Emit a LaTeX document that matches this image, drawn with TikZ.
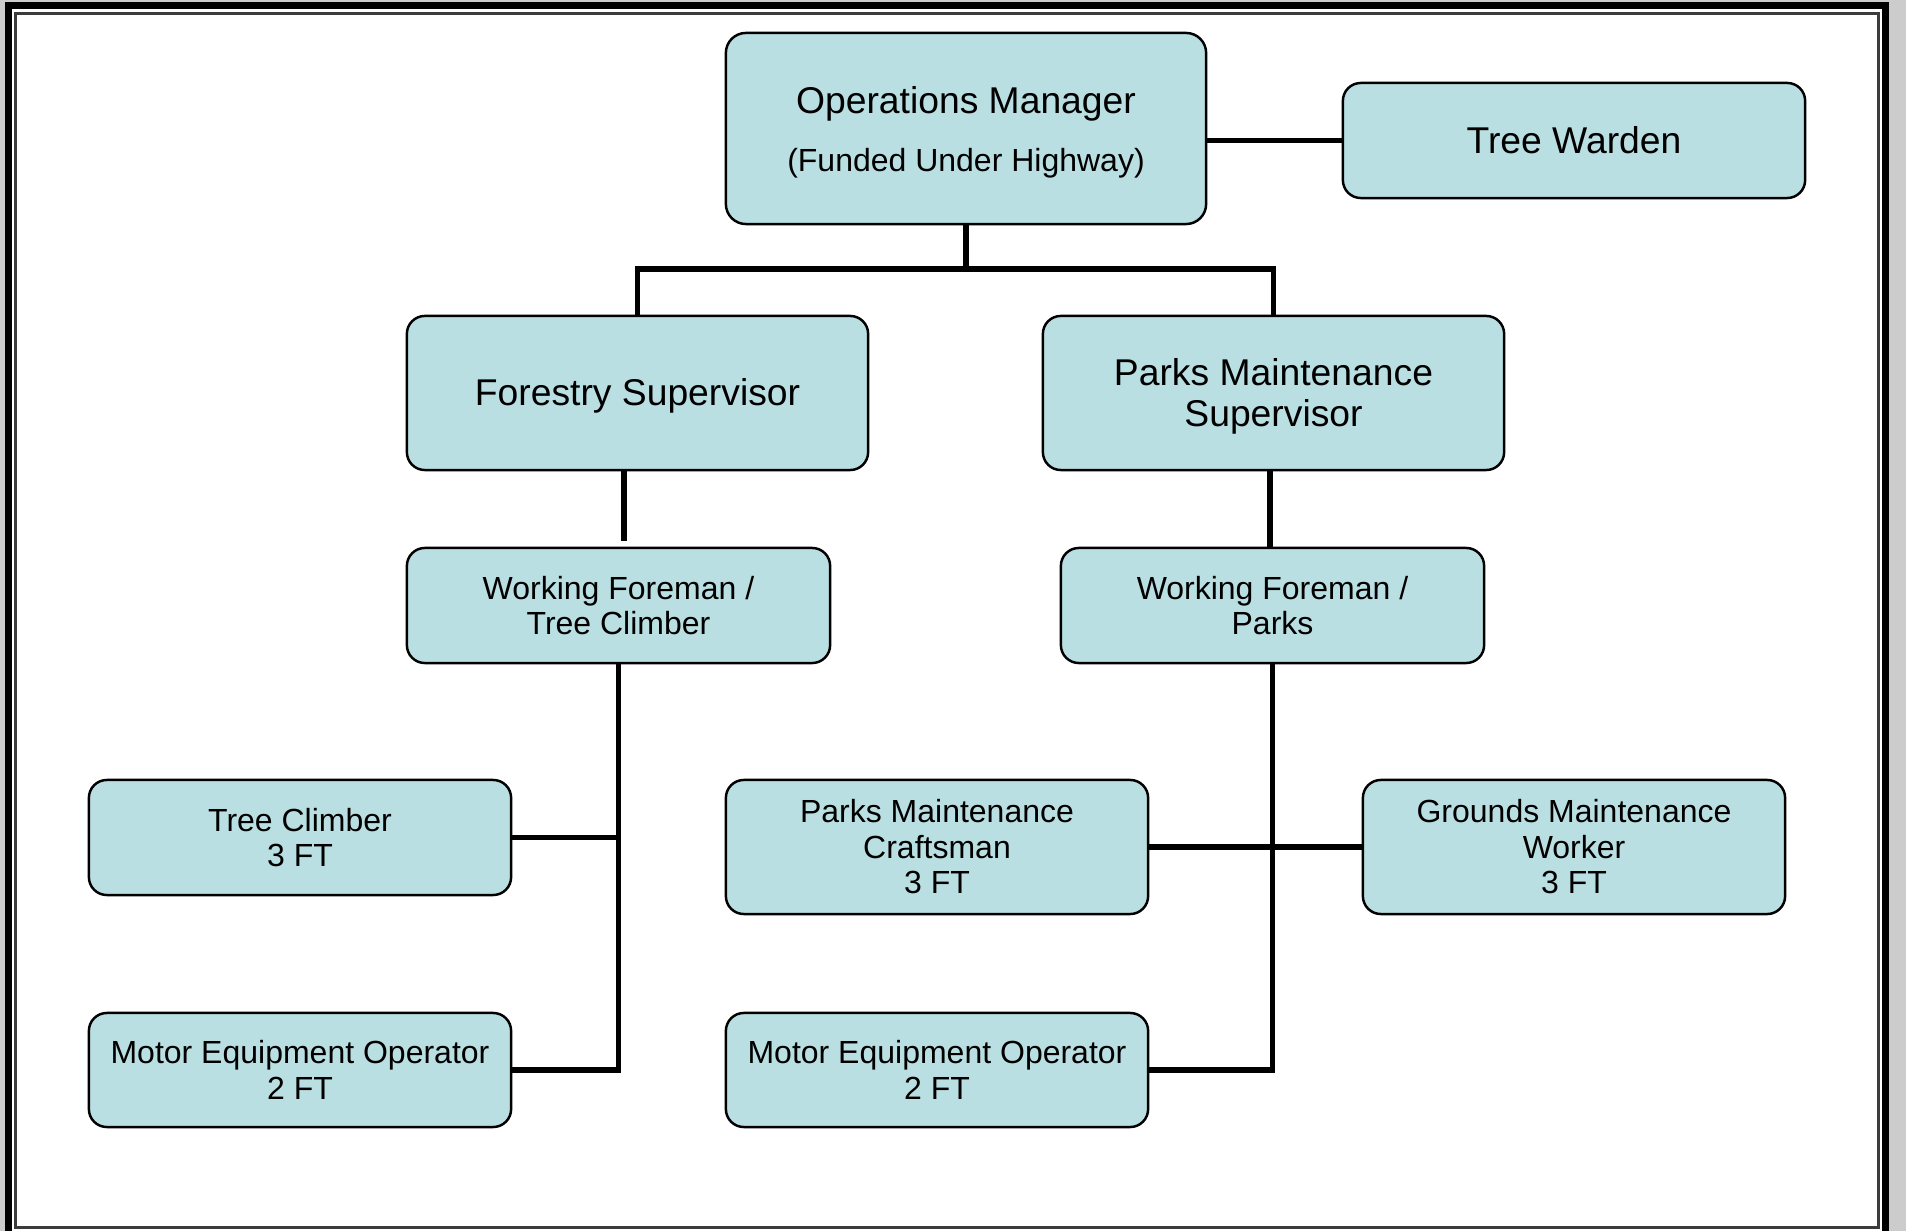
\documentclass[tikz,border=0pt]{standalone}
\usepackage{fontspec}
\setmainfont{Liberation Sans}
\definecolor{boxfill}{RGB}{186,223,226}
\definecolor{pagegray}{RGB}{204,204,204}
\definecolor{rulegray}{RGB}{60,60,60}
\newcommand\bigtext{\fontsize{10.6pt}{11.7pt}\selectfont}
\newcommand\smalltext{\fontsize{9.1pt}{10.1pt}\selectfont}
% invisible strut that sets the height of a first line
\newcommand\topstrut[1]{\rule{0pt}{#1}}
\begin{document}
\begin{tikzpicture}[x=0.01cm,y=-0.01cm,
  box/.style={draw=black,line width=0.7pt,fill=boxfill,rounded corners=5.1pt,
              inner sep=0pt,align=center,font=\smalltext},
  bigbox/.style={box,font=\bigtext},
  link/.style={line width=1.45pt,black}]
\useasboundingbox (0,0) rectangle (1906,1231);

% page frame
\fill[pagegray] (0,0) rectangle (1906,1231);
\fill[black] (5,2) rectangle (1889,1231);
\fill[white] (12,9) rectangle (1882,1231);
\draw[rulegray,line width=0.85pt] (15.5,13.5) rectangle (1878.5,1227.5);

% top level
\node[bigbox,rounded corners=5.7pt,minimum width=4.80cm,minimum height=1.91cm] (ops) at (966,128.5)
  {\topstrut{9.9pt}Operations Manager\\[5pt]{\smalltext (Funded Under Highway)}};
\node[bigbox,minimum width=4.62cm,minimum height=1.15cm] (tw) at (1574,140.5) {Tree Warden};

% supervisors
\node[bigbox,minimum width=4.61cm,minimum height=1.54cm] (fs) at (637.5,393) {\topstrut{9.5pt}Forestry Supervisor};
\node[bigbox,minimum width=4.61cm,minimum height=1.54cm] (ps) at (1273.5,393) {\topstrut{9.8pt}Parks Maintenance\\Supervisor};

% working foremen
\node[box,minimum width=4.23cm,minimum height=1.15cm] (wft) at (618.5,605.5) {Working Foreman /\\Tree Climber};
\node[box,minimum width=4.23cm,minimum height=1.15cm] (wfp) at (1272.5,605.5) {Working Foreman /\\Parks};

% crews
\node[box,minimum width=4.22cm,minimum height=1.15cm] (tc) at (300,837.5) {Tree Climber\\3 FT};
\node[box,minimum width=4.22cm,minimum height=1.34cm] (pmc) at (937,847) {Parks Maintenance\\Craftsman\\3 FT};
\node[box,minimum width=4.22cm,minimum height=1.34cm] (gmw) at (1574,847) {Grounds Maintenance\\Worker\\3 FT};
\node[box,minimum width=4.22cm,minimum height=1.14cm] (meol) at (300,1070) {Motor Equipment Operator\\2 FT};
\node[box,minimum width=4.22cm,minimum height=1.14cm] (meor) at (937,1070) {Motor Equipment Operator\\2 FT};

% connectors
\coordinate (bus) at (966,269);
\coordinate (fsdrop) at (624,541);
\coordinate (psdrop) at (1270,0);
\draw[link] (tw.west) -- (tw.west -| ops.east);
\draw[link] (ops.south) -- (bus);
\draw[link] (fs.north) |- (bus) -| (ps.north);
\draw[link] (fsdrop |- fs.south) -- (fsdrop);
\draw[link] (psdrop |- ps.south) -- (psdrop |- wfp.north);
\draw[link] (wft.south) |- (meol.east);
\draw[link] (tc.east) -- (tc.east -| wft.south);
\draw[link] (wfp.south) |- (meor.east);
\draw[link] (pmc.east) -- (gmw.west);
\end{tikzpicture}
\end{document}
